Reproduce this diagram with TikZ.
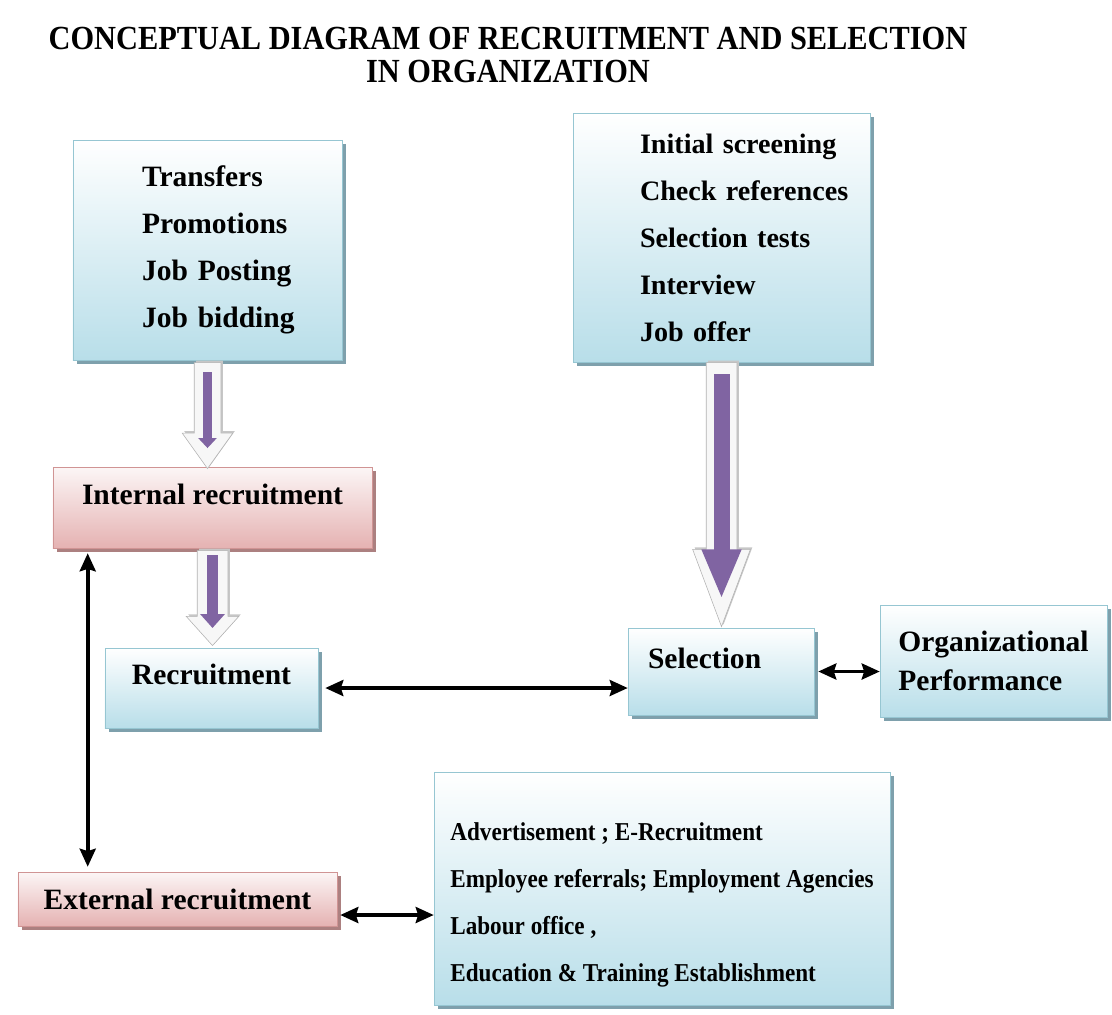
\documentclass[tikz,border=0pt]{standalone}
\usepackage{fontspec}
\setmainfont{Liberation Serif}
\newfontfamily\narrowfont{Liberation Serif}[FakeStretch=0.9]
\usepackage{tikz}
\usetikzlibrary{shapes.geometric, shapes.arrows, arrows.meta, positioning,
                calc, shadows}
\usepackage{xcolor}
\definecolor{cBlue}{RGB}{184,222,233}
\definecolor{cBlueEdge}{RGB}{150,198,210}
\definecolor{cBlueShadow}{RGB}{126,160,172}
\definecolor{cPink}{RGB}{229,178,178}
\definecolor{cPinkEdge}{RGB}{208,148,148}
\definecolor{cPinkShadow}{RGB}{172,128,128}
\definecolor{cPurple}{RGB}{128,100,162}
\definecolor{cArrowEdge}{RGB}{178,178,178}
\hbadness=10000 \hfuzz=200pt
\tikzset{
  basebox/.style={rectangle, inner sep=0pt,
                  font=\bfseries\fontsize{21}{33.4}\selectfont},
  bluebox/.style={basebox, draw=cBlueEdge, top color=white, bottom color=cBlue,
                  drop shadow={shadow xshift=1mm, shadow yshift=-1mm,
                               fill=cBlueShadow, opacity=1}},
  pinkbox/.style={basebox, draw=cPinkEdge, top color=cPink!12, bottom color=cPink,
                  drop shadow={shadow xshift=1mm, shadow yshift=-1mm,
                               fill=cPinkShadow, opacity=1}},
  upper/.style={text height=14.3pt, text depth=18.9pt},
  hollowarrow/.style={single arrow, rotate=-90, anchor=tail, draw=cArrowEdge,
                      fill=gray!6, inner xsep=0pt,
                      drop shadow={shadow xshift=0.5mm, shadow yshift=0.5mm,
                                   fill=gray!45, opacity=1}},
  purplearrow/.style={draw=cPurple, fill=cPurple},
  dblarrow/.style={<->, >={Stealth[length=4.5mm, width=4mm, inset=0.6mm]},
                   line width=0.9mm}
}

\begin{document}
\begin{tikzpicture}[x=0.25mm, y=-0.25mm]
  \useasboundingbox (0,0) rectangle (1112,1014);

  % ── Title ──
  \node[align=center, font=\narrowfont\bfseries\fontsize{24}{23.5}\selectfont]
      (title) at (508,55)
      {CONCEPTUAL DIAGRAM OF RECRUITMENT AND SELECTION\\IN ORGANIZATION};

  % ── Sources and steps ──
  \node[bluebox, text width=32.75mm, align=left, minimum width=67.25mm,
        minimum height=55mm] (inmoves) at (207.5,250)
      {\mbox{Transfers}\\\mbox{Promotions}\\\mbox{Job Posting}\\\mbox{Job bidding}};
  \node[bluebox, text width=40.75mm, align=left, minimum width=74.25mm,
        minimum height=62.25mm, font=\bfseries\fontsize{20}{33.4}\selectfont]
      (selsteps) at (721.5,237.5)
      {\mbox{Initial screening}\\\mbox{Check references}\\\mbox{Selection tests}\\
       \mbox{Interview}\\\mbox{Job offer}};

  % ── Recruitment side ──
  \node[pinkbox, upper, minimum width=79.75mm, minimum height=20.25mm]
      (intrec) at (212.5,507.5) {Internal recruitment};
  \node[bluebox, upper, minimum width=53.25mm, minimum height=20mm]
      (recruit) at (211.5,688) {Recruitment};
  \node[pinkbox, minimum width=79.75mm, minimum height=13.5mm]
      (extrec) at (177.5,899) {External recruitment};
  \node[bluebox, align=left, minimum width=114mm, minimum height=58.25mm,
        font=\narrowfont\bfseries\fontsize{18.3}{33.4}\selectfont]
      (extsrc) at (662,888.5)
      {\rule{0pt}{2em}Advertisement ; E-Recruitment\\
       Employee referrals; Employment Agencies\\Labour office ,\\
       Education \& Training Establishment};

  % ── Selection side ──
  \node[bluebox, upper, text width=36.5mm, align=left, minimum width=46.5mm,
        minimum height=21.75mm] (select) at (721,671.5) {Selection};
  \node[bluebox, align=left, minimum width=56.75mm, minimum height=28mm,
        font=\bfseries\fontsize{21}{27.7}\selectfont]
      (orgperf) at (993.5,661) {Organizational\\Performance};

  % ── Block arrows ──
  \node[hollowarrow, minimum height=26.5mm, inner ysep=3.25mm,
        single arrow head extend=3mm, single arrow tip angle=71]
      (down1) at ([yshift=-0.5mm]inmoves.south) {};
  \node[hollowarrow, minimum height=23.75mm, inner ysep=3.75mm,
        single arrow head extend=2.75mm, single arrow tip angle=84]
      (down2) at ([yshift=-0.5mm]intrec.south) {};
  \node[hollowarrow, minimum height=66mm, inner ysep=3.75mm,
        single arrow head extend=3.4mm, single arrow tip angle=41]
      (down3) at (selsteps.south) {};

  \draw[purplearrow, line width=2.25mm, -{Triangle[length=2.5mm, width=4.5mm]},
        shorten <=2.5mm, shorten >=5.25mm] (down1.tail) -- (down1.tip);
  \draw[purplearrow, line width=2.75mm, -{Triangle[length=3.5mm, width=6mm]},
        shorten <=1.25mm, shorten >=4.5mm] (down2.tail) -- (down2.tip);
  \draw[purplearrow, line width=4mm, -{Triangle[length=12.5mm, width=9mm]},
        shorten <=3mm, shorten >=7mm] (down3.tail) -- (down3.tip);

  % ── Links ──
  \coordinate (vlink) at ([xshift=8.75mm]intrec.south west);
  \coordinate (hlink) at ([yshift=-4mm]extrec.east);
  \draw[dblarrow, shorten <=1.25mm, shorten >=1.25mm] (vlink) -- (vlink |- extrec.north);
  \draw[dblarrow, shorten <=0.75mm] (hlink) -- (hlink -| extsrc.west);
  \draw[dblarrow, shorten <=1.75mm] (recruit.east) -- (recruit.east -| select.west);
  \draw[dblarrow, shorten <=1mm] (select.east) -- (select.east -| orgperf.west);

\end{tikzpicture}
\end{document}
